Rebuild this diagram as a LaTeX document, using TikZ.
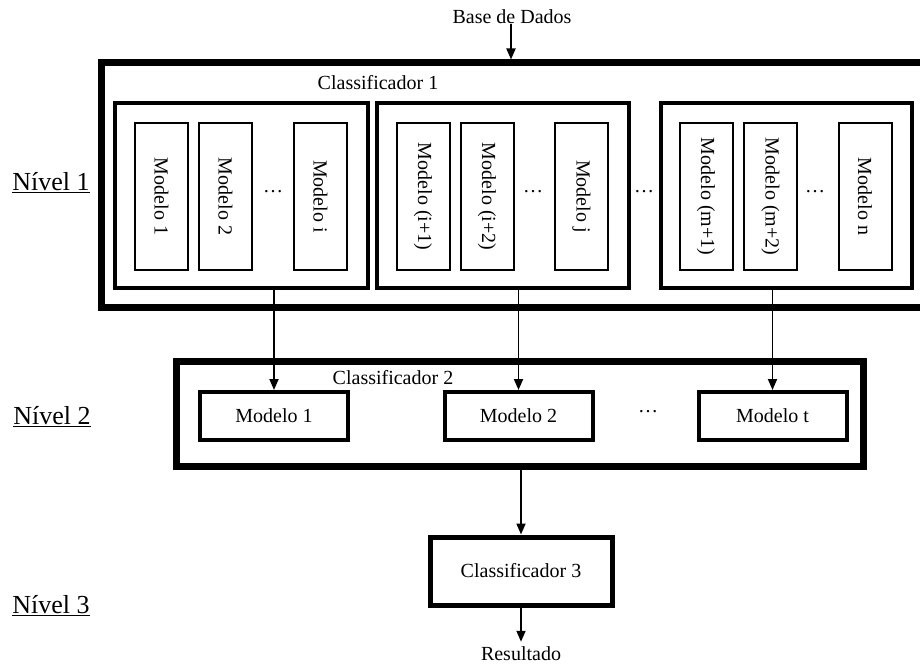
\documentclass[tikz,border=0pt]{standalone}
\usepackage{fontspec}
\setmainfont{Liberation Serif}
\usetikzlibrary{arrows.meta, positioning}

\tikzset{
  txt/.style={font=\fontsize{20}{24}\selectfont, inner sep=0pt},
  nivel/.style={font=\fontsize{26}{30}\selectfont, inner sep=0pt},
  outerbox/.style={draw, line width=7pt, inner sep=0pt},
  groupbox/.style={draw, line width=4pt, inner sep=0pt},
  modelv/.style={draw, line width=2pt, txt, rotate=-90, minimum width=147pt, minimum height=53pt},
  modelh/.style={draw, line width=4pt, txt, minimum width=148pt, minimum height=48pt},
  flow/.style={-{Triangle[length=11pt, width=9pt]}, line width=1.8pt}
}

\begin{document}
\begin{tikzpicture}[x=1pt, y=-1pt]
  \useasboundingbox (0,0) rectangle (920,668);

  %% Nivel 1

  \node[txt] (base) at (512,17) {Base de Dados};
  \node[outerbox, minimum width=823pt, minimum height=244pt] (cl1) at (512.5,185) {};
  \node[txt] (cl1lbl) at (378,83) {Classificador 1};

  % group 1
  \node[groupbox, minimum width=253pt, minimum height=185pt] (g1) at (241.5,195.5) {};
  \node[modelv] (m1) at (161.5,196.5) {Modelo 1};
  \node[modelv] (m2) at (225.5,196.5) {Modelo 2};
  \node[modelv] (mi) at (320.5,196.5) {Modelo i};
  \node[txt] (d1) at (273,192) {\dots};

  % group 2
  \node[groupbox, minimum width=252pt, minimum height=185pt] (g2) at (503,195.5) {};
  \node[modelv] (mi1) at (423,196.5) {Modelo (i+1)};
  \node[modelv] (mi2) at (487,196.5) {Modelo (i+2)};
  \node[modelv] (mj) at (581.5,196.5) {Modelo j};
  \node[txt] (d2) at (533,192) {\dots};
  \node[txt] (d3) at (644,192) {\dots};

  % group 3
  \node[groupbox, minimum width=251pt, minimum height=185pt] (g3) at (786.5,195.5) {};
  \node[modelv] (mm1) at (706,196.5) {Modelo (m+1)};
  \node[modelv] (mm2) at (770.5,196.5) {Modelo (m+2)};
  \node[modelv] (mn) at (865,196.5) {Modelo n};
  \node[txt] (d4) at (815,192) {\dots};

  %% Nivel 2

  \node[outerbox, minimum width=687pt, minimum height=105pt] (cl2) at (519.5,413.5) {};
  \node[txt] (cl2lbl) at (393,378) {Classificador 2};
  \node[modelh] (n1) at (274,416) {Modelo 1};
  \node[modelh] (n2) at (518.5,416) {Modelo 2};
  \node[modelh] (nt) at (772.5,416) {Modelo t};
  \node[txt] (d5) at (648,412) {\dots};

  %% Nivel 3

  \node[draw, line width=5pt, txt, minimum width=182pt, minimum height=68pt] (cl3) at (521,571) {Classificador 3};
  \node[txt, inner sep=5pt] (res) at (521,654) {Resultado};

  % levels
  \node[nivel] (lv1) at (51,183) {\underline{Nível 1}};
  \node[nivel] (lv2) at (52,417) {\underline{Nível 2}};
  \node[nivel] (lv3) at (51,606) {\underline{Nível 3}};

  % connectors
  \draw[flow] (base.south -| 511,0) -- (cl1.north -| 511,0);
  \draw[flow] (g1.south -| n1.north) -- (n1.north);
  \draw[flow] (g2.south -| n2.north) -- (n2.north);
  \draw[flow] (g3.south -| nt.north) -- (nt.north);
  \draw[flow] (cl2.south -| cl3.north) -- (cl3.north);
  \draw[flow] (cl3.south) -- (res.north);

\end{tikzpicture}
\end{document}
